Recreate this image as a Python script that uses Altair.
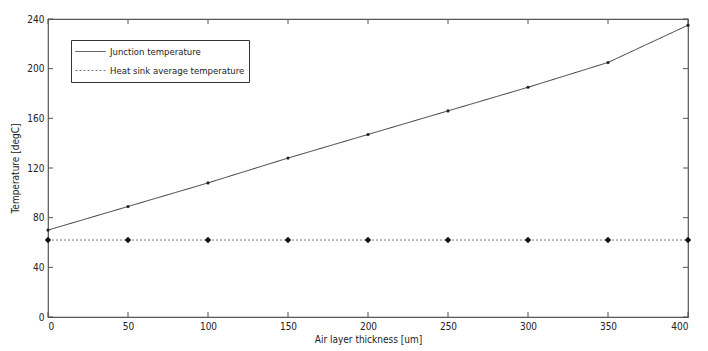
import altair as alt
import pandas as pd

thickness = [0, 50, 100, 150, 200, 250, 300, 350, 400]
junction = [70, 89, 108, 128, 147, 166, 185, 205, 235]
heatsink = [62, 62, 62, 62, 62, 62, 62, 62, 62]
series_names = ["Junction temperature", "Heat sink average temperature"]
x_ticks = [0, 50, 100, 150, 200, 250, 300, 350, 400]
y_ticks = [0, 40, 80, 120, 160, 200, 240]

W, H = 640, 298
FONT = "DejaVu Sans Condensed, Liberation Sans Narrow, Liberation Sans, sans-serif"

rows = []
for t, j, h in zip(thickness, junction, heatsink):
    rows.append({"x": t, "y": j, "series": series_names[0]})
    rows.append({"x": t, "y": h, "series": series_names[1]})
df = pd.DataFrame(rows)
xt = pd.DataFrame({"v": x_ticks})
yt = pd.DataFrame({"v": y_ticks})

xs = alt.Scale(domain=[0, 400], nice=False)
ys = alt.Scale(domain=[0, 240], nice=False)

xax = alt.Axis(values=x_ticks, ticks=False, domain=False, grid=False, labelPadding=4,
               title="Air layer thickness [um]", titlePadding=3)
yax = alt.Axis(values=y_ticks, ticks=False, domain=False, grid=False, labelPadding=4,
               title="Temperature [degC]", titlePadding=6)

base = alt.Chart(df)
lines = base.mark_line(strokeWidth=1).encode(
    x=alt.X("x:Q", scale=xs, axis=xax),
    y=alt.Y("y:Q", scale=ys, axis=yax),
    color=alt.Color("series:N", scale=alt.Scale(domain=series_names, range=["#333333", "#777777"]),
                    legend=alt.Legend(title=None)),
    strokeDash=alt.StrokeDash("series:N", scale=alt.Scale(domain=series_names, range=[[1, 0], [2, 2]]),
                              legend=alt.Legend(title=None)),
)
pts_j = base.transform_filter(alt.datum.series == series_names[0]).mark_point(
    filled=True, shape="circle", size=10, color="#222222", opacity=1
).encode(x=alt.X("x:Q", scale=xs), y=alt.Y("y:Q", scale=ys))
pts_h = base.transform_filter(alt.datum.series == series_names[1]).mark_point(
    filled=True, shape="diamond", size=40, color="#111111", opacity=1
).encode(x=alt.X("x:Q", scale=xs), y=alt.Y("y:Q", scale=ys))

tk = dict(color="#555555", strokeWidth=1)
tb = alt.Chart(xt).mark_rule(**tk).encode(x=alt.X("v:Q", scale=xs), y=alt.value(H), y2=alt.value(H - 5))
tt = alt.Chart(xt).mark_rule(**tk).encode(x=alt.X("v:Q", scale=xs), y=alt.value(0), y2=alt.value(5))
tl = alt.Chart(yt).mark_rule(**tk).encode(y=alt.Y("v:Q", scale=ys), x=alt.value(0), x2=alt.value(5))
tr = alt.Chart(yt).mark_rule(**tk).encode(y=alt.Y("v:Q", scale=ys), x=alt.value(W - 5), x2=alt.value(W))

chart = alt.layer(lines, pts_j, pts_h, tb, tt, tl, tr).properties(
    width=W, height=H, autosize=alt.AutoSizeParams(type="none"),
    padding={"left": 40, "top": 11, "right": 12, "bottom": 34},
).configure_view(stroke="#555555", strokeWidth=1.2).configure_axis(
    labelFont=FONT, titleFont=FONT, labelFontSize=10, titleFontSize=10,
    labelColor="#222222", titleColor="#222222", titleFontWeight="normal",
).configure_legend(
    orient="none", legendX=23, legendY=21, strokeColor="#333333", fillColor="white",
    padding=4, symbolType="stroke", symbolSize=900, symbolStrokeWidth=1, clipHeight=15,
    labelFont=FONT, labelFontSize=9.5, labelColor="#222222", rowPadding=4, labelOffset=4,
)

chart.save("out.html", embed_options={"renderer": "svg", "actions": False})
